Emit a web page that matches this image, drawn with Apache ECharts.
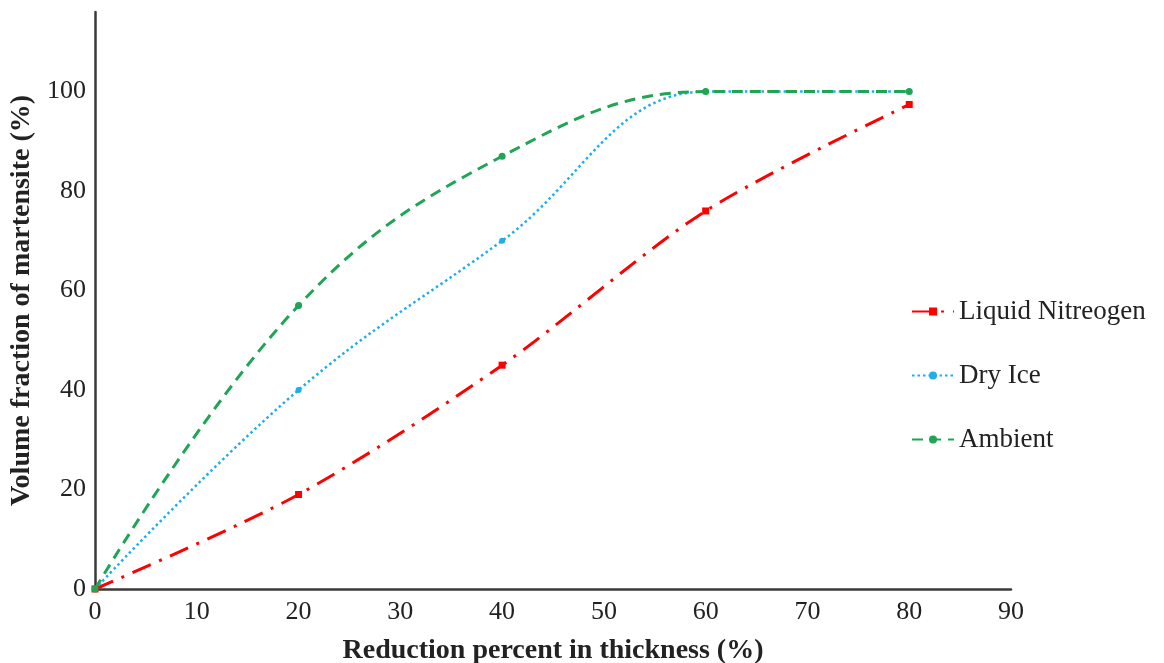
<!DOCTYPE html>
<html>
<head>
<meta charset="utf-8">
<script src="https://cdn.jsdelivr.net/npm/echarts@6/dist/echarts.min.js"></script>
<style>
  html, body { margin: 0; padding: 0; background: #fff; }
  #chartContainer { width: 1164px; height: 663px; }
</style>
</head>
<body>
<div id="chartContainer"></div>
<script>
// reduction percent (x) and martensite volume fraction (y) for each cooling medium
const reduction = [0, 20, 40, 60, 80];
const liquidNitrogen = [0, 19, 45, 76, 97.4];
const dryIce = [0, 40, 70, 100, 100];
const ambient = [0, 57, 87, 100, 100];
const xTicks = [0, 10, 20, 30, 40, 50, 60, 70, 80, 90];
const yTicks = [0, 20, 40, 60, 80, 100];

const font = '"Liberation Serif", "Times New Roman", serif';

function pairs(ys) {
    return reduction.map((x, i) => [x, ys[i]]);
}

const myChart = echarts.init(document.getElementById('chartContainer'));

const option = {
    animation: false,
    backgroundColor: '#fff',
    grid: { left: 95, right: 153, top: 12, bottom: 74, outerBoundsMode: 'none', containLabel: false },
    legend: {
        orient: 'vertical',
        left: 906,
        top: 293,
        itemGap: 37,
        itemWidth: 42,
        itemHeight: 10,
        textStyle: { fontFamily: font, fontSize: 27, color: '#222' },
        data: ['Liquid Nitreogen', 'Dry Ice', 'Ambient']
    },
    xAxis: {
        type: 'value',
        min: 0,
        max: 90,
        interval: 10,
        name: 'Reduction percent in thickness (%)',
        nameLocation: 'middle',
        nameGap: 48,
        nameTextStyle: { fontFamily: font, fontSize: 28, fontWeight: 'bold', color: '#222' },
        axisLine: { show: true, lineStyle: { color: '#3a3a3a', width: 2.5 } },
        axisTick: { show: false },
        splitLine: { show: false },
        axisLabel: {
            margin: 10,
            fontFamily: font,
            fontSize: 26,
            color: '#222',
            formatter: v => xTicks.includes(v) ? String(v) : ''
        }
    },
    yAxis: {
        type: 'value',
        min: 0,
        max: 116,
        interval: 20,
        name: 'Volume fraction of martensite (%)',
        nameLocation: 'middle',
        nameGap: 52,
        nameTextStyle: { fontFamily: font, fontSize: 28, fontWeight: 'bold', color: '#222' },
        axisLine: { show: true, lineStyle: { color: '#3a3a3a', width: 2.5 } },
        axisTick: { show: false },
        splitLine: { show: false },
        axisLabel: {
            margin: 9,
            fontFamily: font,
            fontSize: 26,
            color: '#222',
            formatter: v => yTicks.includes(v) ? String(v) : ''
        }
    },
    series: [
        {
            name: 'Liquid Nitreogen',
            type: 'line',
            smooth: 0.3,
            data: pairs(liquidNitrogen),
            symbol: 'rect',
            symbolSize: 7,
            itemStyle: { color: '#ff0000' },
            lineStyle: { color: '#ff0000', width: 3, type: [20, 9, 3, 9] },
            z: 3
        },
        {
            name: 'Dry Ice',
            type: 'line',
            smooth: 0.4,
            data: pairs(dryIce),
            symbol: 'circle',
            symbolSize: 6,
            itemStyle: { color: '#1eaeea' },
            lineStyle: { color: '#1eaeea', width: 2.5, type: [2.5, 3] },
            z: 4
        },
        {
            name: 'Ambient',
            type: 'line',
            smooth: 0.4,
            data: pairs(ambient),
            symbol: 'circle',
            symbolSize: 7,
            itemStyle: { color: '#20a455' },
            lineStyle: { color: '#20a455', width: 3, type: [11, 7] },
            z: 5
        }
    ]
};

myChart.setOption(option);
</script>
</body>
</html>
